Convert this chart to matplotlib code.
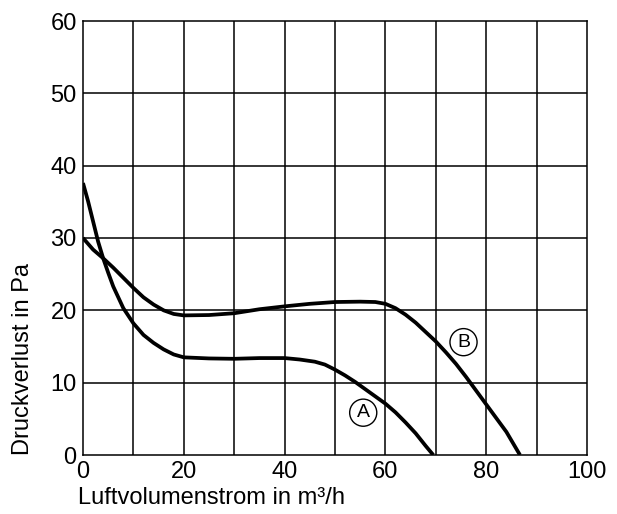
import matplotlib
import matplotlib.pyplot as plt

matplotlib.use('Agg')
plt.rcParams['font.family'] = ['Liberation Sans', 'DejaVu Sans']

# curve A (steeper one, ends near 69 m3/h)
flow_a = [0, 1, 2, 3, 4, 5, 6, 8, 10, 12, 14, 16, 18, 20, 25, 30, 35, 40, 43, 46, 48,
          50, 52, 54, 56, 58, 60, 62, 64, 66, 68, 69.5]
dp_a = [37.6, 35.1, 32.3, 29.5, 27.2, 25.2, 23.3, 20.3, 18.2, 16.6, 15.5, 14.6, 13.9, 13.5,
        13.35, 13.3, 13.4, 13.4, 13.2, 12.9, 12.5, 11.8, 11.0, 10.1, 9.1, 8.1, 7.1, 5.9,
        4.5, 3.0, 1.25, 0]

# curve B
flow_b = [0, 2, 4, 6, 8, 10, 12, 14, 16, 18, 20, 25, 30, 35, 40, 45, 50, 55, 58, 60, 62,
          64, 66, 68, 70, 72, 74, 76, 78, 80, 82, 84, 86.7]
dp_b = [30.0, 28.4, 27.2, 25.9, 24.5, 23.1, 21.8, 20.8, 20.0, 19.5, 19.3, 19.35, 19.6,
        20.15, 20.55, 20.9, 21.15, 21.2, 21.15, 20.9, 20.3, 19.4, 18.3, 17.0, 15.7, 14.2,
        12.6, 10.8, 8.9, 7.0, 5.1, 3.2, 0]

x_ticks = [0, 20, 40, 60, 80, 100]
y_ticks = [0, 10, 20, 30, 40, 50, 60]

fig = plt.figure(figsize=(6.17, 5.14), dpi=100)
ax = fig.add_axes([83 / 617, 1 - 455 / 514, 504 / 617, 434 / 514])

ax.set_xlim(0, 100)
ax.set_ylim(0, 60)
ax.set_xticks(x_ticks)
ax.set_yticks(y_ticks)
for v in range(10, 100, 10):
    ax.axvline(v, color='black', lw=1.1, zorder=1)
for v in range(10, 60, 10):
    ax.axhline(v, color='black', lw=1.1, zorder=1)
for s in ax.spines.values():
    s.set_linewidth(1.1)
ax.tick_params(length=0, labelsize=17, pad=4.5)

ax.plot(flow_a, dp_a, color='black', lw=2.7, solid_capstyle='butt',
        solid_joinstyle='round', zorder=3)
ax.plot(flow_b, dp_b, color='black', lw=2.7, solid_capstyle='butt',
        solid_joinstyle='round', zorder=3)

circ = dict(boxstyle='circle,pad=0.26', fc='white', ec='black', lw=1.0)
ax.text(55.6, 5.85, 'A', fontsize=14, ha='center', va='center', bbox=circ, zorder=4)
ax.text(75.5, 15.6, 'B', fontsize=14, ha='center', va='center', bbox=circ, zorder=4)

fig.text(23 / 617, 1 - 359 / 514, 'Druckverlust in Pa', rotation=90,
         fontsize=17, ha='center', va='center')
fig.text(78 / 617, 1 - 498 / 514, 'Luftvolumenstrom in m³/h',
         fontsize=17, ha='left', va='center')

fig.savefig('out.png', dpi=100)
